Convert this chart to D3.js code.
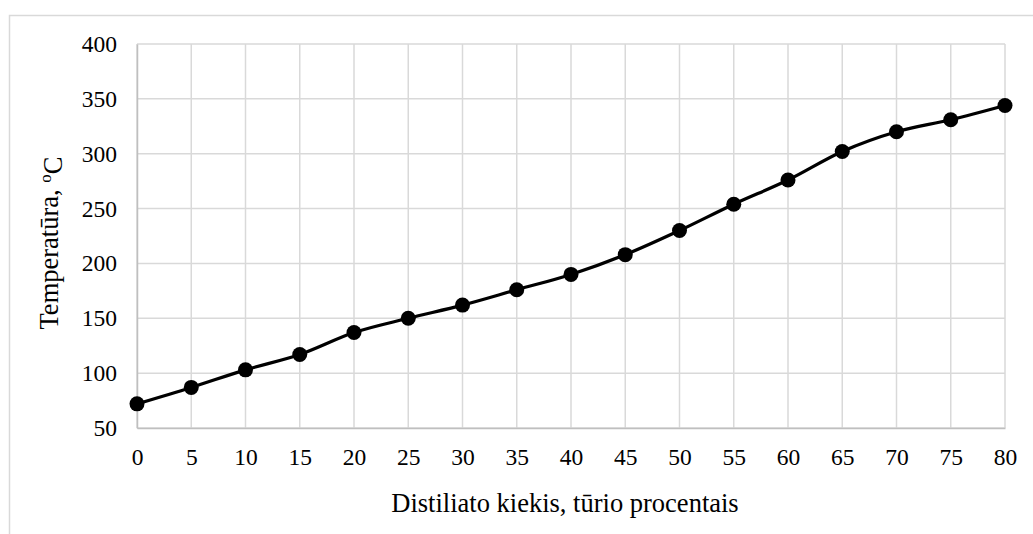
<!DOCTYPE html>
<html lang="lt">
<head>
    <meta charset="UTF-8">
    <title>Temperatūra pagal distiliato kiekį</title>
    <script src="https://d3js.org/d3.v7.min.js"></script>
    <style>
        body {
            margin: 0;
            background-color: white;
        }
        text {
            font-family: "Liberation Serif", "Times New Roman", serif;
            fill: #000;
        }
    </style>
</head>
<body>
    <div id="chart"></div>
    <script>
        // Data
        const volume = [0, 5, 10, 15, 20, 25, 30, 35, 40, 45, 50, 55, 60, 65, 70, 75, 80];
        const temperature = [72, 87, 103, 117, 137, 150, 162, 176, 190, 208, 230, 254, 276, 302, 320, 331, 344];
        const yTicks = [50, 100, 150, 200, 250, 300, 350, 400];

        const data = volume.map((v, i) => ({x: v, y: temperature[i]}));

        const W = 1033, H = 534;
        const margin = {top: 44, right: 28, bottom: 106, left: 137};
        const width = W - margin.left - margin.right,
              height = H - margin.top - margin.bottom;

        const svg = d3.select("#chart")
          .append("svg")
            .attr("width", W)
            .attr("height", H);

        // Outer chart frame (only top and left edges visible)
        svg.append("rect")
            .attr("x", 9.5)
            .attr("y", 15.5)
            .attr("width", W + 20)
            .attr("height", H + 20)
            .attr("fill", "none")
            .attr("stroke", "#d9d9d9")
            .attr("stroke-width", 1.5);

        const g = svg.append("g")
            .attr("transform", `translate(${margin.left},${margin.top})`);

        const x = d3.scaleLinear().domain([0, 80]).range([0, width]);
        const y = d3.scaleLinear().domain([50, 400]).range([height, 0]);

        // Grid lines
        g.append("g")
            .selectAll("line")
            .data(volume)
            .join("line")
            .attr("x1", d => x(d)).attr("x2", d => x(d))
            .attr("y1", 0).attr("y2", height)
            .attr("stroke", "#d9d9d9")
            .attr("stroke-width", 1.5);

        g.append("g")
            .selectAll("line")
            .data(yTicks)
            .join("line")
            .attr("x1", 0).attr("x2", width)
            .attr("y1", d => y(d)).attr("y2", d => y(d))
            .attr("stroke", "#d9d9d9")
            .attr("stroke-width", 1.5);

        // Axes
        const xAxis = g.append("g")
            .attr("transform", `translate(0,${height})`)
            .call(d3.axisBottom(x).tickValues(volume).tickSize(0).tickPadding(20));
        xAxis.select(".domain").attr("stroke", "#bfbfbf").attr("stroke-width", 1.5);
        xAxis.selectAll("text").style("font-size", "23.5px");

        const yAxis = g.append("g")
            .call(d3.axisLeft(y).tickValues(yTicks).tickSize(0).tickPadding(20));
        yAxis.select(".domain").attr("stroke", "#bfbfbf").attr("stroke-width", 1.5);
        yAxis.selectAll("text").style("font-size", "23.5px");

        // Axis titles
        svg.append("text")
            .attr("x", 565)
            .attr("y", 512)
            .attr("text-anchor", "middle")
            .style("font-size", "26.5px")
            .text("Distiliato kiekis, tūrio procentais");

        const yTitle = svg.append("text")
            .attr("transform", "translate(58,243) rotate(-90)")
            .attr("text-anchor", "middle")
            .style("font-size", "26.5px");
        yTitle.append("tspan").text("Temperatūra, ");
        yTitle.append("tspan").attr("dy", "-0.4em").style("font-size", "17px").text("o");
        yTitle.append("tspan").attr("dy", "0.4em").text("C");

        // Smoothed line
        const line = d3.line()
            .x(d => x(d.x))
            .y(d => y(d.y))
            .curve(d3.curveCatmullRom.alpha(0));

        g.append("path")
            .datum(data)
            .attr("fill", "none")
            .attr("stroke", "#000")
            .attr("stroke-width", 3.2)
            .attr("d", line);

        g.selectAll(".dot")
            .data(data)
            .join("circle")
            .attr("class", "dot")
            .attr("cx", d => x(d.x))
            .attr("cy", d => y(d.y))
            .attr("r", 7.5)
            .attr("fill", "#000");
    </script>
</body>
</html>
